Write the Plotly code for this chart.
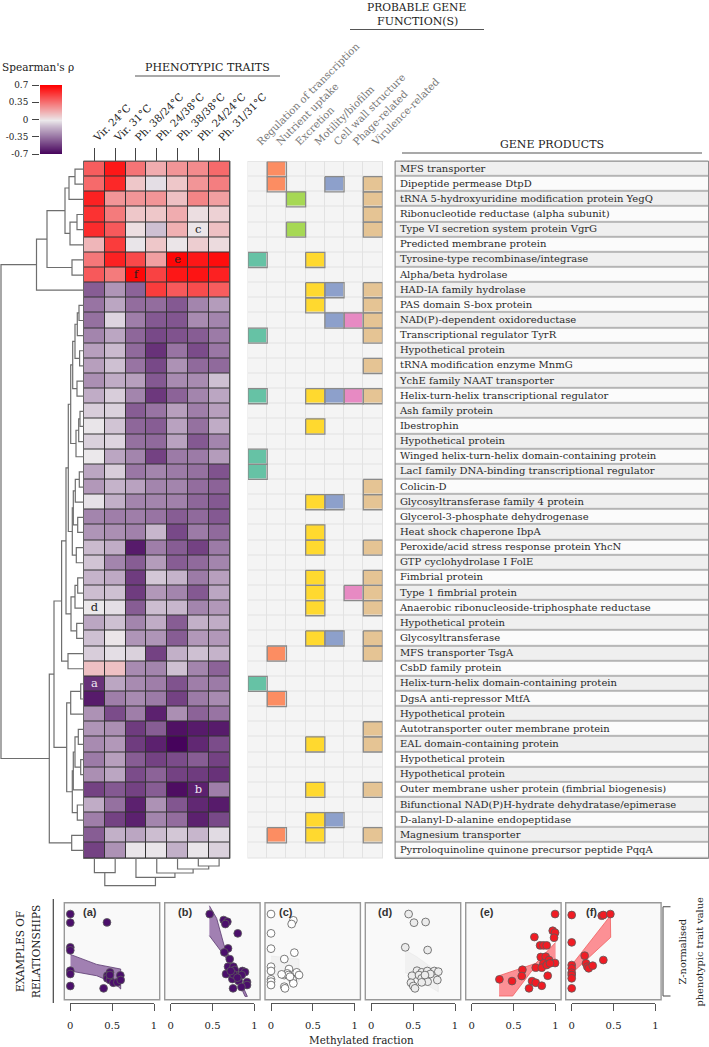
import plotly.graph_objects as go

W, H = 709, 1047
SERIF = "DejaVu Serif"

traits = ["Vir. 24°C", "Vir. 31°C", "Ph. 38/24°C", "Ph. 24/38°C", "Ph. 38/38°C", "Ph. 24/24°C", "Ph. 31/31°C"]

genes = [
    "MFS transporter", "Dipeptide permease DtpD", "tRNA 5-hydroxyuridine modification protein YegQ",
    "Ribonucleotide reductase (alpha subunit)", "Type VI secretion system protein VgrG",
    "Predicted membrane protein", "Tyrosine-type recombinase/integrase", "Alpha/beta hydrolase",
    "HAD-IA family hydrolase", "PAS domain S-box protein", "NAD(P)-dependent oxidoreductase",
    "Transcriptional regulator TyrR", "Hypothetical protein", "tRNA modification enzyme MnmG",
    "YchE family NAAT transporter", "Helix-turn-helix transcriptional regulator", "Ash family protein",
    "Ibestrophin", "Hypothetical protein", "Winged helix-turn-helix domain-containing protein",
    "LacI family DNA-binding transcriptional regulator", "Colicin-D", "Glycosyltransferase family 4 protein",
    "Glycerol-3-phosphate dehydrogenase", "Heat shock chaperone IbpA", "Peroxide/acid stress response protein YhcN",
    "GTP cyclohydrolase I FolE", "Fimbrial protein", "Type 1 fimbrial protein",
    "Anaerobic ribonucleoside-triphosphate reductase", "Hypothetical protein", "Glycosyltransferase",
    "MFS transporter TsgA", "CsbD family protein", "Helix-turn-helix domain-containing protein",
    "DgsA anti-repressor MtfA", "Hypothetical protein", "Autotransporter outer membrane protein",
    "EAL domain-containing protein", "Hypothetical protein", "Hypothetical protein",
    "Outer membrane usher protein (fimbrial biogenesis)", "Bifunctional NAD(P)H-hydrate dehydratase/epimerase",
    "D-alanyl-D-alanine endopeptidase", "Magnesium transporter", "Pyrroloquinoline quinone precursor peptide PqqA",
]

rho = [
    [.42, .63, .35, .18, .25, .28, .38],
    [.38, .58, .10, -.03, .10, .25, .32],
    [.60, .25, .25, .25, .12, .30, .22],
    [.55, .33, .10, .10, .18, .03, .07],
    [.57, .43, .03, -.12, .17, .01, .12],
    [.15, .52, -.01, .10, .01, .08, .04],
    [.34, .60, .48, .22, .68, .63, .66],
    [.43, .33, .68, .50, .63, .64, .60],
    [-.42, -.25, -.40, .52, .43, .47, .42],
    [-.35, -.20, -.37, -.37, -.43, -.30, -.23],
    [-.36, -.06, -.32, -.43, -.44, -.28, -.30],
    [-.30, -.20, -.39, -.48, -.45, -.42, -.33],
    [-.22, -.14, -.38, -.55, -.35, -.47, -.34],
    [-.22, -.12, -.35, -.48, -.26, -.38, -.38],
    [-.27, -.18, -.22, -.43, -.28, -.28, -.12],
    [-.18, -.08, -.30, -.53, -.40, -.30, -.20],
    [-.08, -.07, -.42, -.35, -.22, -.32, -.22],
    [-.01, -.11, -.39, -.42, -.21, -.36, -.18],
    [-.07, -.06, -.36, -.38, -.21, -.43, -.30],
    [.00, -.20, -.30, -.50, -.33, -.33, -.23],
    [-.20, -.08, -.34, -.30, -.33, -.36, -.45],
    [-.24, -.16, -.21, -.30, -.30, -.37, -.40],
    [-.02, -.17, -.30, -.30, -.31, -.39, -.43],
    [-.30, -.32, -.32, -.35, -.42, -.38, -.43],
    [-.25, -.27, -.31, -.15, -.48, -.33, -.38],
    [-.14, -.18, -.62, -.32, -.42, -.50, -.33],
    [-.11, -.30, -.42, -.23, -.42, -.38, -.30],
    [-.16, -.19, -.52, -.10, -.16, -.33, -.22],
    [-.13, -.12, -.52, -.24, -.30, -.43, -.20],
    [.00, -.03, -.42, -.13, -.15, -.30, -.24],
    [-.20, -.12, -.30, -.18, -.42, -.17, -.18],
    [-.12, .01, -.25, -.25, -.42, -.24, -.24],
    [-.08, -.03, -.07, -.50, -.17, -.12, -.16],
    [.12, .12, -.28, -.30, -.12, -.30, -.40],
    [-.55, -.20, -.28, -.32, -.45, -.32, -.33],
    [-.62, -.32, -.28, -.33, -.50, -.33, -.28],
    [-.26, -.47, -.32, -.60, -.27, -.40, -.35],
    [-.25, -.27, -.52, -.42, -.65, -.62, -.62],
    [-.28, -.24, -.52, -.60, -.69, -.58, -.47],
    [-.33, -.22, -.42, -.50, -.47, -.42, -.50],
    [-.27, -.20, -.47, -.40, -.50, -.52, -.55],
    [-.50, -.43, -.50, -.42, -.66, -.60, -.32],
    [-.18, -.36, -.60, -.26, -.44, -.58, -.62],
    [-.32, -.50, -.60, -.30, -.37, -.60, -.48],
    [-.42, -.17, -.20, -.13, -.10, -.15, -.04],
    [-.50, -.26, -.01, -.01, -.17, -.01, -.07],
]

cell_letters = ["a", "b", "c", "d", "e", "f"]
letter_col = [0, 5, 5, 0, 4, 2]
letter_row = [35, 42, 5, 30, 7, 8]
letter_color = ["#f0e8f4", "#f0e8f4", "#222222", "#222222", "#222222", "#222222"]

functions = ["Regulation of transcription", "Nutrient uptake", "Excretion", "Motility/biofilm",
             "Cell wall structure", "Phage-related", "Virulence-related"]
function_colors = ["#66c2a5", "#fc8d62", "#a6d854", "#ffd92f", "#8da0cb", "#e78ac3", "#e5c494"]
regulation_rows = [7, 12, 16, 20, 21, 35]
nutrient_rows = [1, 2, 33, 36, 45]
excretion_rows = [3, 5]
motility_rows = [7, 9, 10, 16, 18, 23, 25, 26, 28, 29, 30, 32, 39, 42, 44, 45]
cellwall_rows = [2, 9, 11, 16, 23, 32, 44]
phage_rows = [11, 16, 29]
virulence_rows = [2, 3, 4, 5, 9, 10, 11, 12, 14, 16, 22, 23, 26, 28, 29, 30, 32, 33, 38, 39, 42, 45]
function_rows = [regulation_rows, nutrient_rows, excretion_rows, motility_rows,
                 cellwall_rows, phage_rows, virulence_rows]

# Row dendrogram: (merge height, left, right); leaves are 1-based gene rows
row_tree = (83,
    (47.5,
        (37,
            (19,
                (15, (9, 1, 2), 3),
                (14, (7, 4, 5), 6)),
            (12, 7, 8)),
        9),
    (34.7,
        (30,
            (22.4,
                (18,
                    (15.7,
                        (13.3,
                            (11.3,
                                (9, (6.7, (5, 10, 11), 12), (4.4, 13, 14)),
                                (7, 15, 16)),
                            (8, (5.3, (4, 17, 18), 19), 20)),
                        (11.7,
                            (10.7, (8.7, (4.7, 21, 22), 23), (6.3, 24, 25)),
                            (7.7, 26, 27))),
                    (13, (9, (6.3, 28, 29), 30), (7.3, 31, 32))),
                (16, 33, 34)),
            (17.3,
                (13.3, (3.3, 35, 36), 37),
                (11.7,
                    (10.7, (9, (5.7, 38, 39), (3.3, 40, 41)), 42),
                    (6.7, 43, 44)))),
        (12.3, 45, 46)))

# Column dendrogram: leaves are 1-based trait columns
col_tree = (27.7, (14.7, 1, 2), (19.3, 3, (15, 4, (11, 5, (8, 6, 7)))))

# Scatter panels: methylated fraction vs normalised trait value
a_x = [0, 0, .438, 0, 0, 0, 0, 0, .398, .474, .442, .442, .474, .514, .562, .598, .602, .474]
a_y = [.883, .794, .797, .54, .509, .299, .265, .141, .117, .282, .247, .22, .203, .175, .179, .251, .203, .254]
a_band_x = [0, .315, .602, .602, .534, .315, 0]
a_band_y = [.467, .364, .316, .11, .168, .247, .296]

b_x = [.466, .633, .677, .653, .801, .685, .641, .705, .685, .749, .661, .765, .773, .857, .888, .737, .813, .849, .912, .912, .745, .845, .749, .717, .797]
b_y = [.883, .821, .804, .78, .684, .529, .488, .419, .34, .34, .265, .306, .254, .296, .285, .213, .192, .254, .182, .151, .117, .131, .261, .296, .227]
b_band_x = [.462, .55, .637, .749, .916, .888, .709, .462]
b_band_y = [.969, .838, .564, .357, .034, .034, .375, .66]

c_x = [0, .267, .247, 0, 0, .279, .159, 0, 0, .215, 0, 0, 0, .159, .195, .207, .307, .335, .259, .267, .159, .167, .227, .127]
c_y = [.883, .818, .78, .684, .526, .485, .419, .34, .296, .316, .21, .186, .151, .254, .271, .254, .282, .254, .203, .168, .134, .117, .237, .261]
c_band_x = [0, .335, .335, 0]
c_band_y = [.45, .419, .186, .271]

d_x = [.446, .51, .649, .406, .673, .546, .486, .602, .669, .753, .801, .705, .57, .602, .673, .789, .474, .502, .522, .602, .641]
d_y = [.883, .794, .801, .54, .512, .299, .247, .282, .296, .296, .289, .265, .254, .22, .186, .203, .175, .141, .117, .179, .254]
d_band_x = [.402, .542, .801, .801, .402]
d_band_y = [.512, .443, .282, .082, .282]

e_x = [.996, .968, .996, .984, .749, .817, .857, .896, .825, .884, .924, .857, .996, .765, .837, .896, .606, .598, .908, .331, .482, .721, .765, .837, .685, .936]
e_y = [.883, .711, .691, .639, .646, .56, .56, .56, .44, .443, .409, .375, .378, .33, .33, .357, .309, .244, .247, .21, .192, .192, .175, .144, .117, .375]
e_band_x = [.327, .765, 1.004, 1.004, .717, .49, .327]
e_band_y = [.247, .375, .591, .419, .296, .038, .038]

f_x = [0, 0, .155, .171, 0, 0, 0, 0, 0, .187, .203, .251, .378, .359, .378, .462, 0]
f_y = [.873, .591, .454, .375, .357, .323, .278, .254, .22, .34, .323, .351, .409, .866, .873, .883, .117]
f_band_x = [0, .462, .466, 0]
f_band_y = [.357, .866, .643, .271]

colorbar_levels = [-.7, -.56, -.42, -.28, -.14, 0, .14, .28, .42, .56, .7]
colorbar_ticks = [-.7, -.35, 0, .35, .7]
colorbar_labels = ["-0.7", "-0.35", "0", "0.35", "0.7"]
panel_ticks = [0, .5, 1]
panel_labels = ["0", "0.5", "1"]

RHO_SCALE = [[0, "#44005a"], [.5, "#ebe8eb"], [1, "#ff0000"]]

fig = go.Figure()
layout = {}
n_axes = [0]


def dom_x(a, b):
    return [a / W, b / W]


def dom_y(top, bottom):
    return [1 - bottom / H, 1 - top / H]


def axes(x0, x1, y0, y1, xkw=None, ykw=None):
    n_axes[0] += 1
    n = n_axes[0]
    s = "" if n == 1 else str(n)
    xa = dict(domain=dom_x(x0, x1), anchor="y" + s, showgrid=False, zeroline=False, automargin=False,
              showticklabels=False, ticks="", showline=False, fixedrange=True)
    ya = dict(domain=dom_y(y0, y1), anchor="x" + s, showgrid=False, zeroline=False, automargin=False,
              showticklabels=False, ticks="", showline=False, fixedrange=True)
    xa.update(xkw or {})
    ya.update(ykw or {})
    layout["xaxis" + s] = xa
    layout["yaxis" + s] = ya
    return "x" + s, "y" + s


def text_note(px, py, txt, size=10, color="#222222", angle=0, xanchor="center", yanchor="middle", family=SERIF):
    return dict(x=px / W, y=1 - py / H, xref="paper", yref="paper", text=txt, showarrow=False,
                textangle=angle, xanchor=xanchor, yanchor=yanchor,
                font=dict(family=family, size=size, color=color))


def rect(x0, y0, x1, y1, fill, line="rgba(0,0,0,0)", width=1):
    return dict(type="rect", xref="paper", yref="paper", layer="below", x0=x0 / W, x1=x1 / W,
                y0=1 - y1 / H, y1=1 - y0 / H, fillcolor=fill, line=dict(color=line, width=width))


def seg(x0, y0, x1, y1, color="#555555", width=1.2):
    return dict(type="line", xref="paper", yref="paper", x0=x0 / W, x1=x1 / W,
                y0=1 - y0 / H, y1=1 - y1 / H, line=dict(color=color, width=width))


shapes = []
notes = []

HX0, HX1, RY0, RY1 = 84, 229.5, 161.5, 858
FX0, FX1 = 248, 382.5
GX0, GX1 = 395.5, 708
rows = list(range(len(genes)))
row_range = [len(genes) - .5, -.5]
col_range = [-.5, len(traits) - .5]

# --- Correlation heatmap
shapes.append(rect(HX0 - .5, RY0 - .5, HX1 + .5, RY1 + .5, "#333333", "#666666", 1))
hx, hy = axes(HX0, HX1, RY0, RY1,
              dict(side="top", range=col_range, tickmode="array", tickvals=list(range(len(traits))),
                   ticktext=traits, showticklabels=True, tickangle=-45, ticks="outside", ticklen=13,
                   tickwidth=1, tickcolor="#444444", tickfont=dict(family=SERIF, size=10.3, color="#222222")),
              dict(range=row_range))
fig.add_trace(go.Heatmap(z=rho, x=list(range(len(traits))), y=rows, zmin=-.7, zmax=.7, colorscale=RHO_SCALE,
                         showscale=False, xgap=1, ygap=1, xaxis=hx, yaxis=hy, hoverinfo="skip"))
fig.add_trace(go.Scatter(x=letter_col, y=[r - 1 for r in letter_row], mode="text", text=cell_letters,
                         textfont=dict(family=SERIF, size=11.5, color=letter_color), xaxis=hx, yaxis=hy,
                         hoverinfo="skip", showlegend=False))


# --- Dendrograms built from merge heights
def walk(node, leaf_pos, segs):
    if not isinstance(node, tuple):
        return leaf_pos(node), 0
    h, left, right = node
    pa, ha = walk(left, leaf_pos, segs)
    pb, hb = walk(right, leaf_pos, segs)
    segs.append(((ha, pa), (h, pa), (h, pb), (hb, pb)))
    return (pa + pb) / 2, h


def flatten(segs, swap):
    xs, ys = [], []
    for s in segs:
        for h, p in s:
            xs.append(p if swap else h)
            ys.append(h if swap else p)
        xs.append(None)
        ys.append(None)
    return xs, ys


segs = []
walk(row_tree, lambda leaf: leaf - 1, segs)
dx, dy = flatten(segs, False)
ax, ay = axes(0, HX0, RY0, RY1, dict(range=[HX0, 0]), dict(range=row_range))
fig.add_trace(go.Scatter(x=dx, y=dy, mode="lines", line=dict(color="#6e6e6e", width=1.2), xaxis=ax, yaxis=ay,
                         hoverinfo="skip", showlegend=False, cliponaxis=False))

segs = []
walk(col_tree, lambda leaf: leaf - 1, segs)
dx, dy = flatten(segs, True)
ax, ay = axes(HX0, HX1, RY1, RY1 + 30, dict(range=col_range), dict(range=[30, 0]))
fig.add_trace(go.Scatter(x=dx, y=dy, mode="lines", line=dict(color="#6e6e6e", width=1.2), xaxis=ax, yaxis=ay,
                         hoverinfo="skip", showlegend=False, cliponaxis=False))

# --- Function matrix
func_z = [[0] * len(functions) for _ in genes]
for c, rr in enumerate(function_rows):
    for r in rr:
        func_z[r - 1][c] = c + 1
nf = len(function_colors)
level_colors = ["#f4f4f4"] + function_colors
func_scale = []
for i, col in enumerate(level_colors):
    func_scale.append([max(0, (i - .5) / nf), col])
    func_scale.append([min(1, (i + .5) / nf), col])
shapes.append(rect(FX0 - .5, RY0 - .5, FX1 + .5, RY1 + .5, "#e2e2e2"))
fx, fy = axes(FX0, FX1, RY0, RY1,
              dict(side="top", range=col_range, tickmode="array", tickvals=list(range(len(functions))),
                   ticktext=functions, showticklabels=True, tickangle=-45, ticks="outside", ticklen=9,
                   tickcolor="rgba(0,0,0,0)", tickfont=dict(family=SERIF, size=10.2, color="#777777")),
              dict(range=row_range))
fig.add_trace(go.Heatmap(z=func_z, x=list(range(len(functions))), y=rows, zmin=0, zmax=nf,
                         colorscale=func_scale, showscale=False, xgap=1, ygap=1, xaxis=fx, yaxis=fy,
                         hoverinfo="skip"))
bx, by = [], []
for c, rr in enumerate(function_rows):
    for r in rr:
        y = r - 1
        bx += [c - .5, c + .5, c + .5, c - .5, c - .5, None]
        by += [y - .5, y - .5, y + .5, y + .5, y - .5, None]
fig.add_trace(go.Scatter(x=bx, y=by, mode="lines", line=dict(color="#8a8a8a", width=1.3), xaxis=fx, yaxis=fy,
                         hoverinfo="skip", showlegend=False, cliponaxis=False))
fig.add_trace(go.Scatter(x=list(range(len(functions))), y=[-1.13] * len(functions), mode="markers",
                         marker=dict(size=7.5, color=function_colors, line=dict(color="#777777", width=1)),
                         xaxis=fx, yaxis=fy, hoverinfo="skip", showlegend=False, cliponaxis=False))

# --- Gene product table
shapes.append(rect(GX0 - .5, RY0 - .5, GX1 + .5, RY1 + .5, "#8c8c8c", "#8c8c8c", 1))
gx, gy = axes(GX0, GX1, RY0, RY1, dict(range=[0, 1]), dict(range=row_range))
fig.add_trace(go.Heatmap(z=[[(r + 1) % 2] for r in rows], x=[.5], y=rows, zmin=0, zmax=1,
                         colorscale=[[0, "#fbfbfb"], [1, "#efefef"]], showscale=False, ygap=1.2,
                         xaxis=gx, yaxis=gy, hoverinfo="skip"))
fig.add_trace(go.Scatter(x=[.014] * len(genes), y=rows, mode="text", text=genes, textposition="middle right",
                         textfont=dict(family=SERIF, size=10, color="#2a2a2a"), xaxis=gx, yaxis=gy,
                         hoverinfo="skip", showlegend=False, cliponaxis=False))

# --- Legend ramp
cx, cy = axes(40, 62, 85, 154,
              dict(range=[0, 1]),
              dict(range=[-.7, .7], showticklabels=True, ticks="outside", ticklen=7, tickwidth=1,
                   tickcolor="#444444", tickmode="array", tickvals=colorbar_ticks, ticktext=colorbar_labels,
                   ticklabelstandoff=2, tickfont=dict(family=SERIF, size=8.8, color="#222222")))
fig.add_trace(go.Heatmap(z=[[v, v] for v in colorbar_levels], x=[0, 1], y=colorbar_levels, zmin=-.7, zmax=.7,
                         colorscale=RHO_SCALE, zsmooth="best", showscale=False, xaxis=cx, yaxis=cy,
                         hoverinfo="skip"))

# --- Scatter panels
panels = [
    ("(a)", 70.3, a_x, a_y, a_band_x, a_band_y, "#4b0f6b", "rgba(90,30,120,.55)", "#5a3a70"),
    ("(b)", 170.7, b_x, b_y, b_band_x, b_band_y, "#4b0f6b", "rgba(90,30,120,.55)", "#5a3a70"),
    ("(c)", 271, c_x, c_y, c_band_x, c_band_y, "#ffffff", "rgba(225,225,225,.35)", "rgba(225,225,225,.5)"),
    ("(d)", 371.3, d_x, d_y, d_band_x, d_band_y, "#ececec", "rgba(225,225,225,.35)", "rgba(225,225,225,.5)"),
    ("(e)", 471.7, e_x, e_y, e_band_x, e_band_y, "#f01c24", "rgba(255,40,50,.5)", "#f06060"),
    ("(f)", 571.7, f_x, f_y, f_band_x, f_band_y, "#f01c24", "rgba(255,40,50,.5)", "#f06060"),
]
PY0, PY1 = 902.7, 999.7
for name, z0, xs, ys, bxs, bys, col, fill, bline in panels:
    shapes.append(rect(z0 - 6, PY0, z0 + 89.4, PY1, "#f9f9f9", "#999999", 1.4))
    px, py = axes(z0, z0 + 83.7, PY0, PY1,
                  dict(range=[0, 1], showline=True, linecolor="#555555", linewidth=1, ticks="outside", ticklen=7,
                       tickwidth=1, tickcolor="#555555", showticklabels=True, tickmode="array",
                       tickvals=panel_ticks, ticktext=panel_labels, ticklabelstandoff=6,
                       anchor="free", position=1 - 1003 / H,
                       tickfont=dict(family=SERIF, size=10, color="#222222")),
                  dict(range=[0, 1]))
    fig.add_trace(go.Scatter(x=bxs, y=bys, mode="lines", fill="toself", fillcolor=fill,
                             line=dict(color=bline, width=.8), xaxis=px, yaxis=py, hoverinfo="skip",
                             showlegend=False, cliponaxis=False))
    fig.add_trace(go.Scatter(x=xs, y=ys, mode="markers",
                             marker=dict(size=7.8, color=col, line=dict(color="#5a5a5a", width=.8)),
                             xaxis=px, yaxis=py, hoverinfo="skip", showlegend=False, cliponaxis=False))
    label_x = z0 + {"(a)": 10.5, "(b)": 5, "(c)": 6, "(d)": 4.5, "(e)": 6.5, "(f)": 12}[name]
    notes.append(text_note(label_x, 911.5, "<b>" + name + "</b>", 11, "#333333", family="Liberation Sans",
                           xanchor="left"))

# --- Titles and decoration
notes += [
    text_note(38, 67.5, "Spearman's ρ", 10.5),
    text_note(207.5, 68, "PHENOTYPIC TRAITS", 11),
    text_note(416.5, 7.5, "PROBABLE GENE", 10.7),
    text_note(417, 21.5, "FUNCTION(S)", 11),
    text_note(551.5, 144.5, "GENE PRODUCTS", 11),
    text_note(20, 952, "EXAMPLES OF", 10.5, angle=-90),
    text_note(36, 952, "RELATIONSHIPS", 10.5, angle=-90),
    text_note(681.5, 952, "Z-normalised", 9.8, angle=-90),
    text_note(698.5, 952, "phenotypic trait value", 9.8, angle=-90),
    text_note(361, 1040, "Methylated fraction", 10.4),
]
shapes += [
    seg(135, 76, 280, 76),
    seg(350, 29.5, 484, 29.5),
    seg(402, 153, 702, 153),
    seg(53.3, 899, 53.3, 1003, "#444444"),
    seg(663, 906.7, 663, 996, "#666666"),
    seg(663, 906.7, 670.5, 906.7, "#666666"),
    seg(663, 996, 670.5, 996, "#666666"),
]

fig.update_layout(width=W, height=H, margin=dict(l=0, r=0, t=0, b=0), paper_bgcolor="white",
                  plot_bgcolor="rgba(0,0,0,0)", showlegend=False, hovermode=False,
                  shapes=shapes, annotations=notes, **layout)
fig.write_html("out.html", config={"displayModeBar": False},
               post_script="document.body.style.margin='0';document.documentElement.style.overflow='hidden';")
